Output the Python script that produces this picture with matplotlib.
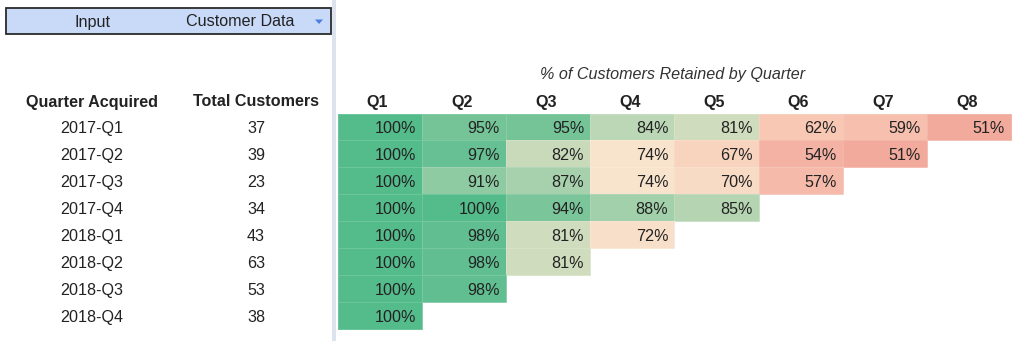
import matplotlib

matplotlib.use("Agg")
import matplotlib.pyplot as plt
import numpy as np
from matplotlib.colors import LinearSegmentedColormap
from matplotlib.patches import Rectangle, Polygon

plt.rcParams["font.family"] = ["Liberation Sans", "DejaVu Sans"]

cohorts = ["2017-Q1", "2017-Q2", "2017-Q3", "2017-Q4",
           "2018-Q1", "2018-Q2", "2018-Q3", "2018-Q4"]
total_customers = [37, 39, 23, 34, 43, 63, 53, 38]
quarters = ["Q1", "Q2", "Q3", "Q4", "Q5", "Q6", "Q7", "Q8"]
retention = [
    [100, 95, 95, 84, 81, 62, 59, 51],
    [100, 97, 82, 74, 67, 54, 51],
    [100, 91, 87, 74, 70, 57],
    [100, 100, 94, 88, 85],
    [100, 98, 81, 72],
    [100, 98, 81],
    [100, 98],
    [100],
]

TXT = "#222222"
FS = 11.6

# sheet colour scale: salmon -> beige -> green
cmap = LinearSegmentedColormap.from_list(
    "sheet",
    [(0.0, "#f1aa9c"), (0.11 / 0.49, "#f8c8b5"), (0.23 / 0.49, "#f8e4cd"),
     (0.30 / 0.49, "#cfdcbd"), (1.0, "#54bb8b")],
)

grid = np.full((len(cohorts), len(quarters)), np.nan)
for i, row in enumerate(retention):
    grid[i, :len(row)] = row
grid = np.ma.masked_invalid(grid)

fig = plt.figure(figsize=(10.24, 3.41), dpi=100)
ax = fig.add_axes([0, 0, 1, 1])
ax.set_xlim(0, 1024)
ax.set_ylim(341, 0)
ax.axis("off")

# layout in pixels
x0, cw = 337.5, 84.2
y0, rh = 113.5, 26.9
xe = x0 + cw * np.arange(len(quarters) + 1)
ye = y0 + rh * np.arange(len(cohorts) + 1)

ax.pcolormesh(xe, ye, grid, cmap=cmap, vmin=51, vmax=100,
              edgecolor=(1, 1, 1, 0.15), linewidth=0.4)

for i, row in enumerate(retention):
    yc = y0 + rh * (i + 0.5) + 2
    for j, v in enumerate(row):
        ax.text(xe[j + 1] - 6, yc, f"{v}%", ha="right", va="center",
                fontsize=FS, color=TXT)
    ax.text(92, yc, cohorts[i], ha="center", va="center", fontsize=FS, color=TXT)
    ax.text(256, yc, str(total_customers[i]), ha="center", va="center",
            fontsize=FS, color=TXT)

# headers
hy = 102
ax.text(92, hy, "Quarter Acquired", ha="center", va="center", fontsize=FS,
        fontweight="bold", color=TXT)
ax.text(256, hy, "Total Customers", ha="center", va="center", fontsize=FS,
        fontweight="bold", color=TXT)
for j, q in enumerate(quarters):
    ax.text(x0 + cw * (j + 0.5) - 2, hy, q, ha="center", va="center",
            fontsize=FS, fontweight="bold", color=TXT)
ax.text(673, 75, "% of Customers Retained by Quarter", ha="center",
        va="center", fontsize=FS, fontstyle="italic", color="#333333")

# input box
ax.add_patch(Rectangle((5.5, 7.5), 325, 26.5, facecolor="#c9daf8",
                       edgecolor="#2b2b2b", linewidth=1.3))
ax.text(93, 22, "Input", ha="center", va="center", fontsize=FS, color=TXT)
ax.text(240, 22, "Customer Data", ha="center", va="center", fontsize=FS,
        color=TXT)
ax.add_patch(Polygon([(315, 19.5), (323, 19.5), (319, 24)], closed=True,
                     facecolor="#4a7fe0", edgecolor="none"))

# frozen column divider
ax.add_patch(Rectangle((332, 0), 3.5, 341, facecolor="#dde3ee",
                       edgecolor="none"))

fig.savefig("out.png", dpi=100)
plt.close(fig)
